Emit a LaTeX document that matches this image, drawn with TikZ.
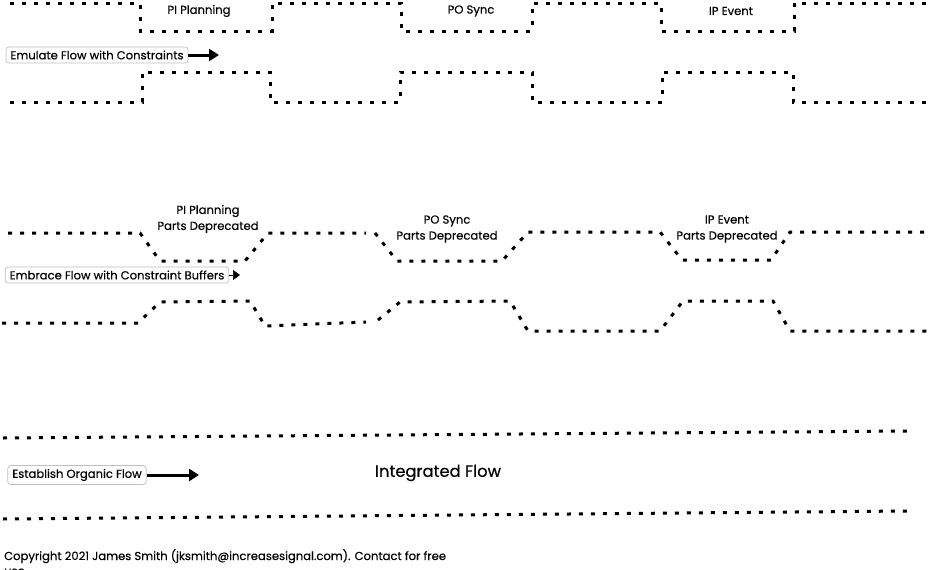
\documentclass[tikz,border=0pt]{standalone}
\usepackage{fontspec}
\setmainfont{Poppins}[FakeBold=0.35]
\usetikzlibrary{arrows.meta}
\tikzset{
  flowline/.style={line width=3pt, dash pattern=on 4pt off 8pt, black},
  lbl/.style={font=\fontsize{11.6}{16}\selectfont, inner sep=0pt, align=center},
  tagbox/.style={draw=black!25, line width=0.7pt, rounded corners=3pt, fill=white, inner xsep=4.5pt, inner ysep=3.5pt, font=\fontsize{11.6}{13}\selectfont},
  bigarrow/.style={line width=3pt, -{Triangle[length=10pt,width=12pt]}},
}
\begin{document}
\begin{tikzpicture}[x=1pt,y=-1pt]
\useasboundingbox (0,0) rectangle (932,570);
% ---------- top section: stepped constraints
\draw[flowline] (10,3) -- (140,3) -- (140,31) -- (272,31) -- (272,3) -- (401,3) -- (401,31) -- (532,31) -- (532,3) -- (661,3) -- (661,31) -- (794,31) -- (794,3) -- (930,3);
\draw[flowline] (10,102) -- (142,102) -- (142,72) -- (270,72) -- (270,102) -- (400,102) -- (400,72) -- (532,72) -- (532,102) -- (662,102) -- (662,72) -- (793,72) -- (793,102) -- (930,102);
\node[lbl] (pi1) at (199,11) {PI Planning};
\node[lbl] (po1) at (471,11) {PO Sync};
\node[lbl] (ip1) at (731,11) {IP Event};
\node[tagbox] (emu) at (97,55) {Emulate Flow with Constraints};
\coordinate (emuend) at (219,55);
\draw[bigarrow] (emu.east) -- (emuend);
% ---------- middle section: buffered constraints
\draw[flowline] (8,233) -- (140,233) -- (160,261) -- (245,261) -- (268,233) -- (366,233);
\draw[flowline] (375,233) -- (397,261) -- (502,261) -- (528,232) -- (660,232) -- (682,260) -- (771,260) -- (790,232) -- (928,232);
\draw[flowline] (2,323) -- (138,323) -- (160,302) -- (250,301) -- (265,326) -- (366,322);
\draw[flowline] (378,320) -- (400,302) -- (510,301) -- (528,331) -- (660,331) -- (683,301) -- (773,301) -- (790,331) -- (928,331);
\node[lbl] (pi2) at (208,219) {PI Planning\\Parts Deprecated};
\node[lbl] (po2) at (447,229) {PO Sync\\Parts Deprecated};
\node[lbl] (ip2) at (727,229) {IP Event\\Parts Deprecated};
\node[tagbox] (emb) at (117,275) {Embrace Flow with Constraint Buffers};
\coordinate (embend) at (240,275);
\draw[line width=0.5pt, -{Triangle[length=7pt,width=10pt]}] (emb.east) -- (embend);
% ---------- bottom section: organic flow
\draw[flowline] (3,438) -- (908,431);
\draw[flowline] (3,519) -- (908,511);
\node[tagbox] (est) at (77,475) {Establish Organic Flow};
\coordinate (estend) at (199,475);
\draw[bigarrow] (est.east) -- (estend);
\node[font=\fontsize{16.3}{19}\selectfont, inner sep=0pt] (integ) at (438,473) {Integrated Flow};
% ---------- copyright
\node[anchor=north west, inner sep=0pt, align=left, font=\fontsize{11.6}{15}\selectfont] (copy) at (4,549) {Copyright 2021 James Smith (jksmith@increasesignal.com). Contact for free\\use};
\end{tikzpicture}
\end{document}
